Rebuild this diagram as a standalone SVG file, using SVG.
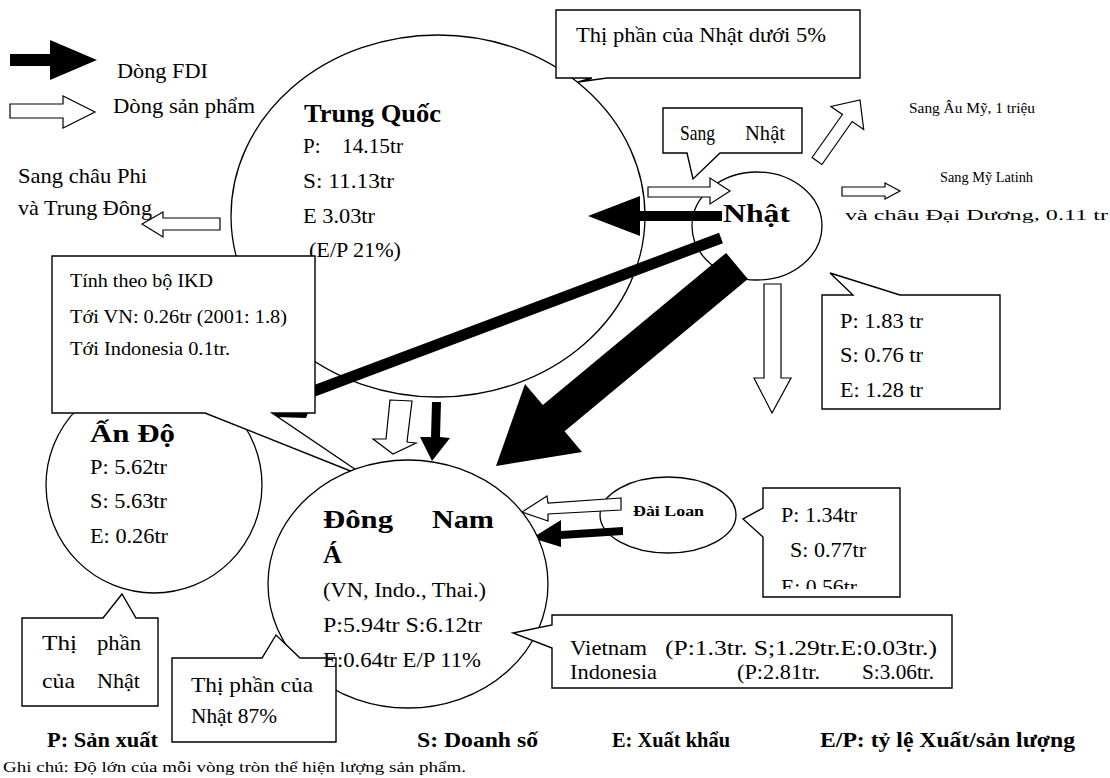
<svg xmlns="http://www.w3.org/2000/svg" width="1110" height="778" viewBox="0 0 1110 778">
<style>
.t{font-family:"Liberation Serif","DejaVu Serif","Times New Roman",serif;font-size:21px;fill:#000}
.b{font-weight:bold}
.sh{fill:#fff;stroke:#000;stroke-width:1.3}
.box{fill:#fff;stroke:#000;stroke-width:1.4}
.oa{fill:#fff;stroke:#000;stroke-width:1.2}
.fa{fill:#000}
</style>
<defs>
<clipPath id="clipE"><rect x="763" y="488" width="137" height="101"/></clipPath>
</defs>
<rect width="1110" height="778" fill="#fff"/>

<g id="legend">
<polygon class="fa" points="10,54 50,54 50,40 97,60 50,80 50,66 10,66"/>
<text class="t" x="117" y="78" textLength="91" lengthAdjust="spacingAndGlyphs">Dòng FDI</text>
<polygon class="oa" points="10,104 63,104 63,96 95,112 63,128 63,118 10,118"/>
<text class="t" x="113" y="113" textLength="142" lengthAdjust="spacingAndGlyphs">Dòng sản phẩm</text>
</g>

<g id="trung-quoc">
<ellipse class="sh" cx="438" cy="216" rx="207" ry="181"/>
</g>
<g id="nhat">
<ellipse class="sh" cx="757" cy="226" rx="65" ry="54"/>
</g>
<g id="an-do">
<circle class="sh" cx="154" cy="485" r="108"/>
</g>
<g id="dai-loan">
<ellipse class="sh" cx="668" cy="515" rx="68" ry="38"/>
<text class="t b" x="633" y="516" style="font-size:14px" textLength="71" lengthAdjust="spacingAndGlyphs">Đài Loan</text>
</g>

<g id="connectors">
<polygon class="oa" points="220,218 163,218 163,212 142,224 163,237 163,230 220,230"/>
<polygon class="oa" points="648,187 710,187 710,178 730,191 710,204 710,197 648,197"/>
<polygon class="fa" points="722,211 640,211 640,196 588,216 640,236 640,221 722,221"/>
<polygon class="oa" points="812.1,157.5 842.4,114.5 830.9,106.5 860,100 863.7,129.5 852.2,121.5 821.9,164.5"/>
<polygon class="oa" points="842,187 885,187 885,183 900,191 885,199 885,196 842,196"/>
<polygon class="oa" points="764,284 781,284 781,378 791,378 772,413 754,378 764,378"/>
<line x1="721" y1="238" x2="290" y2="400" stroke="#000" stroke-width="11"/>
<polygon class="fa" points="272,413 308,413 306,418 276,417"/>
<polygon class="fa" points="726.1,252.9 542.8,405 525,384 496,466 582,452 564.6,431.2 747.9,279.1"/>
<polygon class="oa" points="390,400 412,401 407,442 416,443 393,454 373,439 386,439"/>
<polygon class="fa" points="432,402 441,402 440,437 450,438 432,461 420,437 431,437"/>
<polygon class="oa" points="621,498 548,503 547,496 522,512 548,521 548,514 621,510"/>
<polygon class="fa" points="623,527 561,531 561,520 532,538 561,547 561,539 623,535"/>
</g>

<g id="tq-text">
<text class="t b" x="304" y="122" style="font-size:26px" textLength="137" lengthAdjust="spacingAndGlyphs">Trung Quốc</text>
<text class="t" x="303" y="153">P:</text>
<text class="t" x="342" y="153" textLength="61" lengthAdjust="spacingAndGlyphs">14.15tr</text>
<text class="t" x="303" y="188" textLength="91" lengthAdjust="spacingAndGlyphs">S: 11.13tr</text>
<text class="t" x="303" y="223" textLength="72" lengthAdjust="spacingAndGlyphs">E 3.03tr</text>
<text class="t" x="309" y="257" textLength="92" lengthAdjust="spacingAndGlyphs">(E/P 21%)</text>
</g>

<g id="nhat-text">
<text class="t b" x="723" y="222" style="font-size:26px" textLength="67" lengthAdjust="spacingAndGlyphs">Nhật</text>
</g>

<g id="labels">
<text class="t" x="18" y="183" textLength="129" lengthAdjust="spacingAndGlyphs">Sang châu Phi</text>
<text class="t" x="18" y="215" textLength="134" lengthAdjust="spacingAndGlyphs">và Trung Đông</text>
<text class="t" x="909" y="113" style="font-size:15px" textLength="126" lengthAdjust="spacingAndGlyphs">Sang Âu Mỹ, 1 triệu</text>
<text class="t" x="940" y="182" style="font-size:15px" textLength="93" lengthAdjust="spacingAndGlyphs">Sang Mỹ Latinh</text>
<text class="t" x="845" y="220" style="font-size:14px" textLength="263" lengthAdjust="spacingAndGlyphs">và châu Đại Dương, 0.11 tr</text>
</g>

<g id="callout-top">
<polygon class="box" points="556,10 860,10 860,78 607,78 578,82 592,78 556,78"/>
<text class="t" x="576" y="42" textLength="250" lengthAdjust="spacingAndGlyphs">Thị phần của Nhật dưới 5%</text>
</g>

<g id="callout-sang-nhat">
<polygon class="box" points="663,108 802,108 802,153 720,153 693,179 687,153 663,153"/>
<text class="t" x="680" y="140" textLength="35" lengthAdjust="spacingAndGlyphs">Sang</text>
<text class="t" x="745" y="140" textLength="40" lengthAdjust="spacingAndGlyphs">Nhật</text>
</g>

<g id="callout-nhat-data">
<polygon class="box" points="822,295 853,295 830,273 900,295 1000,295 1000,409 822,409"/>
<text class="t" x="840" y="328" textLength="83" lengthAdjust="spacingAndGlyphs">P: 1.83 tr</text>
<text class="t" x="840" y="362" textLength="83" lengthAdjust="spacingAndGlyphs">S: 0.76 tr</text>
<text class="t" x="840" y="397" textLength="83" lengthAdjust="spacingAndGlyphs">E: 1.28 tr</text>
</g>

<g id="callout-ikd">
<polygon class="box" points="52,256 315,256 315,413 272,413 368,478 205,413 52,413"/>
<text class="t" x="70" y="287" style="font-size:18px" textLength="143" lengthAdjust="spacingAndGlyphs">Tính theo bộ IKD</text>
<text class="t" x="70" y="323" style="font-size:18px" textLength="217" lengthAdjust="spacingAndGlyphs">Tới VN: 0.26tr (2001: 1.8)</text>
<text class="t" x="70" y="355" style="font-size:18px" textLength="160" lengthAdjust="spacingAndGlyphs">Tới Indonesia 0.1tr.</text>
</g>

<g id="an-do-text">
<text class="t b" x="90" y="442" style="font-size:25px" textLength="85" lengthAdjust="spacingAndGlyphs">Ấn Độ</text>
<text class="t" x="90" y="474" textLength="77" lengthAdjust="spacingAndGlyphs">P: 5.62tr</text>
<text class="t" x="90" y="508" textLength="77" lengthAdjust="spacingAndGlyphs">S: 5.63tr</text>
<text class="t" x="90" y="543" textLength="78" lengthAdjust="spacingAndGlyphs">E: 0.26tr</text>
</g>

<g id="callout-an-do">
<polygon class="box" points="22,618 103,618 122,594 136,618 158,618 158,706 22,706"/>
<text class="t" x="42" y="650" textLength="35" lengthAdjust="spacingAndGlyphs">Thị</text>
<text class="t" x="97" y="650" textLength="44" lengthAdjust="spacingAndGlyphs">phần</text>
<text class="t" x="42" y="688" textLength="33" lengthAdjust="spacingAndGlyphs">của</text>
<text class="t" x="97" y="688" textLength="43" lengthAdjust="spacingAndGlyphs">Nhật</text>
</g>

<g id="dong-nam-a">
<ellipse class="sh" cx="408" cy="584" rx="140" ry="124"/>
</g>

<g id="callout-dna">
<polygon class="box" points="172,658 262,658 276,635 300,658 336,658 336,742 172,742"/>
<text class="t" x="191" y="692" textLength="122" lengthAdjust="spacingAndGlyphs">Thị phần của</text>
<text class="t" x="191" y="723" textLength="86" lengthAdjust="spacingAndGlyphs">Nhật 87%</text>
</g>

<g id="dna-text">
<text class="t b" x="323" y="528" style="font-size:26px" textLength="70" lengthAdjust="spacingAndGlyphs">Đông</text>
<text class="t b" x="432" y="528" style="font-size:26px" textLength="62" lengthAdjust="spacingAndGlyphs">Nam</text>
<text class="t b" x="323" y="563" style="font-size:26px">Á</text>
<text class="t" x="323" y="597" textLength="163" lengthAdjust="spacingAndGlyphs">(VN, Indo., Thai.)</text>
<text class="t" x="323" y="632" textLength="159" lengthAdjust="spacingAndGlyphs">P:5.94tr S:6.12tr</text>
<text class="t" x="323" y="667" textLength="158" lengthAdjust="spacingAndGlyphs">E:0.64tr E/P 11%</text>
</g>

<g id="callout-dai-loan">
<polygon class="box" points="763,488 900,488 900,597 763,597 763,537 743,519 763,508"/>
<text class="t" x="781" y="522" textLength="76" lengthAdjust="spacingAndGlyphs">P: 1.34tr</text>
<text class="t" x="790" y="557" textLength="76" lengthAdjust="spacingAndGlyphs">S: 0.77tr</text>
<text class="t" x="781" y="594" clip-path="url(#clipE)" textLength="76" lengthAdjust="spacingAndGlyphs">E: 0.56tr</text>
</g>

<g id="callout-vn">
<polygon class="box" points="552,615 952,615 952,688 552,688 552,648 513,633 552,625"/>
<text class="t" x="570" y="655" textLength="77" lengthAdjust="spacingAndGlyphs">Vietnam</text>
<text class="t" x="665" y="655" textLength="272" lengthAdjust="spacingAndGlyphs">(P:1.3tr. S;1.29tr.E:0.03tr.)</text>
<text class="t" x="570" y="679" textLength="87" lengthAdjust="spacingAndGlyphs">Indonesia</text>
<text class="t" x="737" y="679" textLength="83" lengthAdjust="spacingAndGlyphs">(P:2.81tr.</text>
<text class="t" x="862" y="679" textLength="72" lengthAdjust="spacingAndGlyphs">S:3.06tr.</text>
</g>

<g id="bottom-legend">
<text class="t b" x="47" y="747" textLength="111" lengthAdjust="spacingAndGlyphs">P: Sản xuất</text>
<text class="t b" x="417" y="747" textLength="121" lengthAdjust="spacingAndGlyphs">S: Doanh số</text>
<text class="t b" x="612" y="747" textLength="118" lengthAdjust="spacingAndGlyphs">E: Xuất khẩu</text>
<text class="t b" x="820" y="747" textLength="255" lengthAdjust="spacingAndGlyphs">E/P: tỷ lệ Xuất/sản lượng</text>
<text class="t" x="3" y="772" style="font-size:15px" textLength="463" lengthAdjust="spacingAndGlyphs">Ghi chú: Độ lớn của mỗi vòng tròn thể hiện lượng sản phẩm.</text>
</g>
</svg>
